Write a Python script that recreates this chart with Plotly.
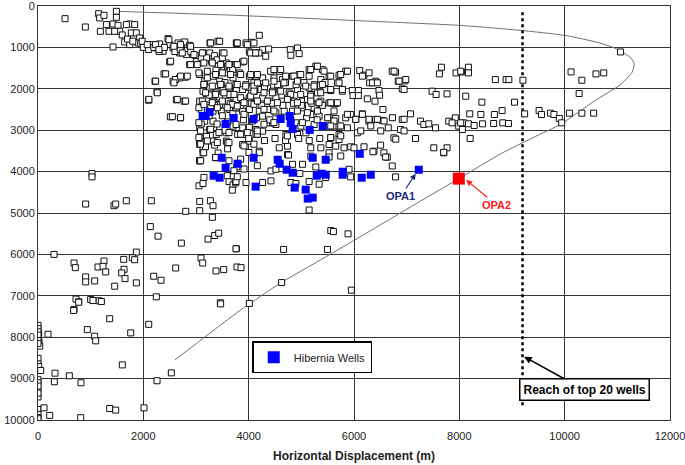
import plotly.graph_objects as go

# ---------------------------------------------------------------------------
# Data (horizontal displacement m, true vertical depth m)
# ---------------------------------------------------------------------------

wells_x = [
    513, 899, 1152, 1171, 1253, 1488, 1488, 1184, 1348, 1298, 1424, 1519, 1551, 1456, 1741, 1836, 1678,
    1772, 1867, 1931, 1899, 1646, 1424, 1741, 2057, 2152, 2247, 2310, 2374, 2469, 2500, 2564, 2659, 2722,
    2786, 2880, 2500, 2690, 2817, 2943, 3133, 3070, 3260, 3266, 3418, 3500, 2880, 3007, 3292, 3418, 3576,
    3703, 3766, 2393, 2222, 2564, 2690, 2798, 2260, 2102, 2627, 2773, 2513, 2703, 3070, 3165, 3323, 3450,
    3576, 3703, 3133, 3260, 3386, 3513, 3640, 3766, 3070, 3197, 3323, 3450, 3608, 3703, 3102, 3323, 3481,
    3640, 3798, 3070, 3165, 3323, 3450, 3703, 3165, 3260, 3386, 3576, 3792, 3070, 3323, 3576, 3070, 3133,
    3355, 3595, 3133, 3070,
    1600, 1700, 1800, 1950, 2000, 2100, 2200, 2300, 2400, 2600, 2700, 2900, 3000, 3100, 3200, 3350, 3400,
    3500, 3600, 3650, 3150, 3250, 3450, 3550, 3350, 3650, 3250, 3500, 3400, 3600, 3200, 3700, 3100, 3550,
    3380, 3480, 3280, 3180, 3600, 3420,
    4202, 3773, 3950, 4063, 4013, 4126, 4265, 4379, 4789, 4928, 4801, 4959, 3634, 3760, 3886, 3697, 3823,
    4013, 4139, 4265, 4417, 4581, 4480, 4644, 4833, 4959, 5148, 5275, 5401, 5148, 5370, 5527, 5716, 5842,
    5685, 6108, 6190, 6411, 6297, 6726, 6789, 6840, 6966, 6916, 7660, 7622, 7938, 8039, 3634, 3760, 3886,
    4013, 4107, 4233, 4360, 4454, 4581, 4770, 4928, 5148, 5180, 5307, 5464, 5559, 5779, 5968, 5981, 6083,
    6083, 6474, 6486, 6253, 6398, 6549, 7073, 6916, 7483, 7559, 7767, 3760, 3886, 4013, 4139, 4265, 4391,
    4517, 4644, 4738, 4864, 5022, 5117, 5275, 5370, 5527, 5653, 3760, 3886, 4013, 4202, 4360, 4517, 4675,
    4833, 5022, 5243, 5180, 5338, 5527, 5653, 5842, 5937, 6032, 6158, 6285, 6411, 6537, 6651, 4265, 4391,
    4517, 3760, 3886, 4013, 4139, 4265, 4454, 4896, 4991, 5243, 5527, 5622, 5716, 5874, 6064, 6758, 6884,
    7168, 7263, 7326, 7420, 7547, 7799, 7925, 7862, 7988, 8083, 3886, 4139, 4013, 4706, 4581, 4738, 4738,
    4928, 5085, 5180, 5370, 5527, 5559, 5716, 5716, 5653, 5811, 5937, 6000, 6190, 6505, 6379, 6568, 6632,
    7515, 7767, 7704, 3886, 4202, 5180, 5527,
    3950, 4100, 4300, 4550, 4700, 4900, 5050, 5250, 5450, 3850, 4050, 4250, 4450, 4650, 4850, 5000, 5200,
    5400, 5600, 3900, 4150, 4400, 4600, 4800, 5100, 5300, 5500, 4000, 4300, 4500, 4700, 4950, 5150, 5350,
    8026, 8173, 8173, 8684, 8889, 8940, 9208, 11061, 10121, 10326, 10594, 10741, 10275, 8121, 8428, 9048,
    8198, 8409, 8665, 8812, 9240, 9515, 9560, 9732, 9796, 9898, 9943, 10090, 10326, 10550, 8026, 8173,
    8281, 8441, 8652, 8825, 8933, 8058, 8205,
    1025, 1025, 905, 1443, 1475, 1677, 2152, 3070, 3146, 3374, 3057, 3133, 3640, 3627, 3703, 3690, 3753,
    3070, 3273, 3323, 3070, 2805, 3311, 2133, 2279, 2722, 3228, 3355, 3431, 3766, 304, 1867, 1791, 1836,
    1627, 684, 709, 1139, 1253, 1234, 1285, 1633, 1589, 1652, 905, 905, 1076, 1456, 1867, 722, 772, 1000,
    1158, 684, 2247, 2614, 2197, 2336, 3095, 3127, 3380, 3526, 3462, 3779,
    3773, 4202, 4757, 5022, 5275, 5527, 5748, 5906, 5937, 6360, 6600, 6726, 6789, 7704, 3697, 3760, 3949,
    4265, 4423, 4423, 4801, 4896, 5148, 5338, 5464, 4972, 4833, 4517, 5148, 5559, 5609, 5887, 3760, 4663,
    5496, 3855, 4625, 5950, 4013,
    677, 772, 1044, 1203, 1361, 0, 0, 13, 190, 0, 19, 32, 937, 1076, 1095, 1760, 2102, 0, 0, 13, 51, 323,
    310, 595, 816, 1601, 2260, 2532, 3468, 0, 0, 0, 0, 114, 0, 0, 222, 0, 810, 1361, 1475, 2013, 0, 0, 0,
    0, 0, 0, 0,
    1980, 2075, 2233, 2296, 2486, 2581, 2708, 2898, 2740, 2961, 3120, 3278, 3449, 3531, 3784, 3974, 4100,
    4038, 4195, 2518, 2898, 3024, 3150, 3310, 3468, 3626, 3784, 3911, 2423, 2233, 2613, 2708, 2835, 2581,
    3055, 3215, 3215, 3373, 3500, 3658, 3848, 4038, 4165, 3150, 3310, 3468, 3626, 3784, 3943, 4100, 2265,
    3183, 3373, 3531, 3721, 3848, 4038, 3120, 3310, 3500, 3690, 3911, 4100, 2105, 2645, 2803,
    2550, 2708, 3055, 3150, 3405, 3594, 3784, 3911, 3055, 3088, 3278, 3436, 3626, 3848, 3974, 4165, 3055,
    3215, 3088, 3405, 3626, 3911, 4100, 3088, 3373, 3626, 3848, 4005, 4165, 3721, 3911, 3150, 3784, 3594,
    4133, 4323, 4480, 4608, 4703, 4860, 4988, 5178, 5305, 5431, 5558, 5748, 5875, 4165, 4323, 4480, 4670,
    4925, 5083, 5241, 5400, 5716, 4100, 4291, 4450, 4608, 4798, 4988, 5178, 5368, 5558, 5780, 4165, 4355,
    4545, 4735, 4925, 5178, 5336, 5558, 5685, 4291, 4480, 4925, 5115, 5305, 5621, 5875, 6033, 6160, 6286,
    6444, 6571, 6730, 6951, 5621, 4291, 4480, 5020, 5558, 5748, 6318, 6508, 6793, 6951, 6128, 4735, 5558,
    5748, 4165, 4070, 6286, 6160, 6350, 6444, 6761, 6856, 6983, 6951,
]
wells_y = [
    306, 507, 185, 289, 225, 129, 273, 611, 611, 450, 434, 466, 611, 611, 434, 450, 450,
    651, 651, 772, 892, 868, 989, 933, 933, 933, 1013, 917, 1093, 788, 933, 1013, 892, 973,
    868, 949, 1351, 1134, 1174, 1174, 1134, 1375, 1134, 892, 852, 1134, 1415, 1335, 1335, 1455, 1375,
    1415, 892, 1640, 1817, 1817, 1737, 1720, 2074, 2275, 2267, 2299, 2677, 2701, 1656, 1817, 1696, 1817,
    1616, 1737, 2058, 1978, 2098, 1994, 2138, 2018, 2299, 2259, 2299, 2380, 2299, 2460, 2500, 2541, 2541,
    2500, 2460, 2943, 2782, 2782, 2943, 2902, 3063, 2983, 3103, 3063, 3103, 3264, 3264, 3264, 3345, 3465,
    3361, 3304, 3546, 3731,
    700, 800, 850, 900, 1000, 1050, 1000, 1100, 1000, 1100, 1050, 1100, 1200, 1250, 1250, 1200, 1300,
    1250, 1450, 1550, 1900, 2150, 2200, 1850, 2400, 2350, 2650, 2650, 2850, 2800, 3150, 2600, 2850, 3000,
    1550, 1900, 2450, 3400, 3450, 3550,
    708, 908, 892, 876, 1110, 1134, 1054, 1038, 1054, 1013, 1190, 1150, 1415, 1415, 1351, 1536, 1616,
    1696, 1696, 1737, 1576, 1576, 1737, 1777, 1696, 1656, 1536, 1455, 1536, 1696, 1777, 1696, 1672, 1576,
    1857, 1560, 1672, 1817, 1857, 1576, 1600, 1817, 1809, 2002, 1479, 1640, 1616, 1592, 1978, 1898, 2018,
    1962, 2058, 2018, 1978, 2058, 2018, 2098, 2018, 1978, 2138, 2098, 2018, 2042, 2058, 2042, 2163, 2042,
    2163, 2042, 2155, 2243, 2299, 2500, 2605, 2741, 2058, 2138, 2122, 2259, 2299, 2219, 2299, 2219, 2299,
    2219, 2299, 2219, 2299, 2299, 2259, 2380, 2299, 2339, 2355, 2460, 2541, 2500, 2541, 2500, 2581, 2541,
    2541, 2460, 2460, 2621, 2661, 2701, 2717, 2701, 2621, 2741, 2605, 2782, 2741, 2765, 2943, 2661, 2822,
    2862, 2862, 2943, 2927, 2983, 3023, 2822, 2822, 2902, 2862, 2902, 2902, 2902, 2943, 3063, 3184, 2983,
    3200, 2782, 2862, 2846, 2943, 2782, 2701, 2822, 2902, 2822, 3103, 3103, 3264, 3103, 3425, 3385, 3586,
    3103, 3063, 3425, 3425, 3345, 3184, 3103, 3224, 3385, 3425, 3401, 3425, 3401, 3361, 3506, 3546, 3650,
    3425, 3425, 3546, 3345, 3506, 3626, 3546,
    1900, 1850, 1950, 1900, 1850, 1900, 1850, 1900, 1850, 2400, 2350, 2400, 2350, 2400, 2350, 2400, 2350,
    2400, 2350, 2750, 2700, 2750, 2700, 2750, 2700, 2750, 2700, 3200, 3250, 3200, 3250, 3200, 3250, 3200,
    1576, 1479, 1616, 1777, 1777, 1777, 1793, 1110, 1592, 1793, 1640, 1616, 2114, 2179, 2323, 2323,
    2605, 2621, 2621, 2525, 2605, 2525, 2621, 2589, 2621, 2717, 2822, 2589, 2589, 2589, 2822, 2846,
    2886, 2846, 2838, 2822, 2838, 2983, 3200,
    4048, 4128, 4784, 4824, 4784, 4704, 4704, 3744, 3544, 3664, 4344, 4288, 4104, 4240, 4320, 4448, 4272,
    4720, 4704, 4824, 4944, 4960, 5104, 5328, 5560, 5728, 5632, 5544, 5488, 5864, 6000, 5944, 6080, 6128,
    6120, 6208, 6320, 6304, 6160, 6288, 6424, 6360, 6448, 6584, 6544, 6664, 6640, 6768, 6688, 7080, 7144, 7088,
    7120, 7328, 7024, 6328, 6528, 6624, 6088, 6208, 6400, 6368, 7168, 6304,
    3888, 3544, 3600, 3824, 3888, 3648, 3624, 3944, 4128, 3520, 3648, 3864, 4128, 3536, 4104, 4240, 4264,
    4264, 4224, 3984, 4264, 4288, 4240, 4304, 4144, 4048, 3824, 3944, 4928, 5424, 5448, 5504, 5864, 5880,
    5880, 6320, 6680, 6864, 7184,
    7354, 7155, 7115, 7139, 7554, 7713, 7793, 7912, 7928, 8008, 8112, 8215, 7817, 7976, 8088, 7896, 7689,
    8510, 8646, 8709, 8805, 8869, 9076, 8933, 9100, 8669, 9052, 8861, 7195, 9028, 9267, 9443, 9745, 9706,
    9865, 9944, 9889, 9970, 9944, 9722, 9761, 9706, 7870, 7950, 8080, 8150, 9100, 9180, 9350,
    853, 933, 933, 1053, 813, 974, 933, 974, 1134, 1174, 1134, 893, 853, 1134, 893, 933, 893,
    1134, 1134, 1334, 1415, 1415, 1375, 1375, 1415, 1415, 1415, 1334, 1639, 1815, 1775, 1695, 1695, 1856,
    1615, 1575, 1736, 1655, 1615, 1655, 1655, 1655, 1655, 1895, 1935, 1895, 1935, 1895, 1935, 1935, 2096,
    2096, 2136, 2096, 2136, 2216, 2176, 2296, 2336, 2296, 2376, 2336, 2376, 2256, 2256, 2296,
    2673, 2697, 2457, 2376, 2457, 2457, 2416, 2616, 2818, 3017, 2977, 3058, 3058, 3098, 3058, 3098, 3178,
    3258, 3337, 3298, 3298, 3378, 3337, 3738, 3659, 3738, 3698, 3539, 3858, 3979, 3938, 4140, 4123, 4099,
    1134, 1214, 1534, 1534, 1695, 1695, 1655, 1534, 1454, 1575, 1695, 1655, 1575, 1856, 1856, 1815, 1856,
    1815, 1935, 1935, 1895, 1856, 2056, 2096, 2096, 2056, 2136, 2136, 2176, 2096, 2016, 2016, 2296, 2296,
    2336, 2256, 2336, 2296, 2336, 2336, 2336, 2496, 2536, 2536, 2577, 2536, 2536, 2616, 2737, 2616, 2737,
    2737, 2777, 2697, 2737, 2777, 2857, 2817, 2817, 2897, 2897, 2897, 3017, 3217, 3017, 3017, 3137, 3178,
    3137, 3017, 2777, 1615, 1695, 1856, 1856, 1575, 1815, 1775, 2016,
]

hibernia_x = [
    3126, 3183, 3258, 3563, 3715, 4094, 4608, 4779, 4798, 4836, 5159, 5406, 6109, 3487, 4094, 4551, 5216,
    5463, 3563, 3791, 3335, 3449, 4589, 4722, 4836, 4874, 4132, 5292, 5387, 5463, 5786, 5786, 6147, 6318,
    5083, 5216, 5121, 7230,
]
hibernia_y = [
    2656, 2656, 2560, 2849, 2705, 2729, 2729, 2656, 2825, 2969, 2993, 2897, 3570, 3666, 3666, 3714, 3666,
    3714, 3906, 3810, 4099, 4147, 3810, 3955, 4027, 4387, 4363, 4099, 4051, 4075, 4003, 4075, 4147, 4075,
    4435, 4628, 4652, 3955,
]

opa2_x = [7990]
opa2_y = [4170]

envelope_x = [2600, 3850, 4620, 5300, 6070, 7000, 7990, 8800, 9400, 9930, 10560, 11070, 11280, 11320,
              11260, 11010, 10690, 10000, 9170, 8030, 6000, 3650, 1510]
envelope_y = [8550, 7340, 6680, 6180, 5610, 4910, 4170, 3560, 3180, 2850, 2300, 1890, 1600, 1400,
              1260, 1050, 900, 710, 590, 470, 350, 220, 130]

reach_x = [9200, 9200]
reach_y = [150, 9650]

FONT = "Liberation Sans, Arial, sans-serif"

fig = go.Figure()

fig.add_trace(go.Scatter(
    x=envelope_x, y=envelope_y, mode="lines",
    line=dict(color="#707070", width=1, shape="spline", smoothing=0.6),
    showlegend=False, hoverinfo="skip",
))
fig.add_trace(go.Scatter(
    x=reach_x, y=reach_y, mode="lines",
    line=dict(color="black", width=2.5, dash="dot"),
    showlegend=False, hoverinfo="skip",
))
fig.add_trace(go.Scatter(
    x=wells_x, y=wells_y, mode="markers",
    marker=dict(symbol="square", size=6, color="white", line=dict(color="#111111", width=1)),
    showlegend=False, name="Wells",
))
fig.add_trace(go.Scatter(
    x=hibernia_x, y=hibernia_y, mode="markers",
    marker=dict(symbol="square", size=8, color="#0000ff", line=dict(width=0)),
    name="Hibernia Wells",
))
fig.add_trace(go.Scatter(
    x=opa2_x, y=opa2_y, mode="markers",
    marker=dict(symbol="square", size=12, color="#ff0000", line=dict(width=0)),
    showlegend=False, name="OPA2",
))

fig.add_annotation(
    x=7172, y=4050, ax=6890, ay=4590, axref="x", ayref="y",
    text="<b>OPA1</b>", font=dict(family=FONT, size=11, color="#1f2a7a"),
    showarrow=True, arrowhead=2, arrowsize=1, arrowwidth=1.2, arrowcolor="#1f2a7a",
)
fig.add_annotation(
    x=8130, y=4200, ax=8700, ay=4800, axref="x", ayref="y",
    text="<b>OPA2</b>", font=dict(family=FONT, size=11, color="#ff1a1a"),
    showarrow=True, arrowhead=2, arrowsize=1, arrowwidth=1.2, arrowcolor="#ff1a1a",
)
fig.add_annotation(
    x=9230, y=8470, ax=10370, ay=9270, axref="x", ayref="y",
    text="<b>Reach of top 20 wells</b>", font=dict(family=FONT, size=12, color="black"),
    bgcolor="white", bordercolor="black", borderwidth=1.5, borderpad=3,
    showarrow=True, arrowhead=2, arrowsize=1, arrowwidth=1.5, arrowcolor="black",
)

axis_common = dict(
    showgrid=True, gridcolor="#333333", gridwidth=1,
    showline=True, linecolor="#333333", linewidth=1, mirror=True,
    zeroline=False, tickformat="d", automargin=False,
    tickfont=dict(family=FONT, size=11, color="#222222"),
    ticks="", ticklen=0, ticklabeloverflow="allow",
)

fig.update_xaxes(
    range=[0, 12000], dtick=2000, tick0=0, ticklabelstandoff=6,
    title=dict(text="<b>Horizontal Displacement (m)</b>", font=dict(family=FONT, size=12, color="#222222"),
               standoff=10),
    **axis_common,
)
fig.update_yaxes(range=[10000, 0], dtick=1000, tick0=0, **axis_common)

fig.update_layout(
    width=685, height=465,
    margin=dict(l=38, r=15, t=6, b=45),
    paper_bgcolor="white", plot_bgcolor="white",
    font=dict(family=FONT, size=11, color="#222222"),
    legend=dict(
        x=0.339, y=0.19, xanchor="left", yanchor="top",
        bgcolor="white", bordercolor="black", borderwidth=1.5,
        font=dict(family=FONT, size=11, color="#222222"),
        itemsizing="constant",
    ),
)

# page body has a default 8px margin; drop it so the figure sits at the window origin
fig.write_html(
    "out.html",
    config={"displayModeBar": False},
    post_script="document.body.style.margin='0';",
)
